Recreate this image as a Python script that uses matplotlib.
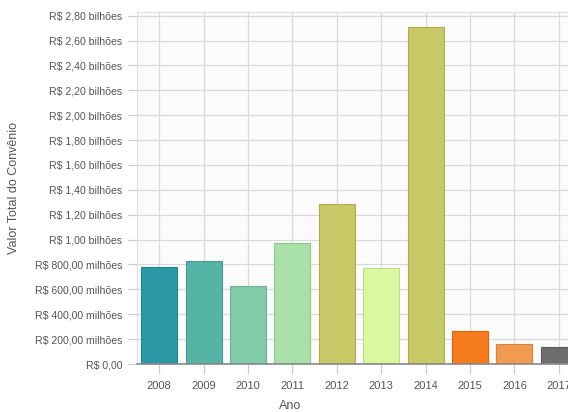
import matplotlib
matplotlib.use("Agg")
import matplotlib.pyplot as plt
from matplotlib.ticker import FuncFormatter, MultipleLocator

# valores em bilhões de R$
anos = ["2008", "2009", "2010", "2011", "2012", "2013", "2014", "2015", "2016", "2017"]
valores = [0.78, 0.83, 0.63, 0.97, 1.29, 0.77, 2.71, 0.265, 0.16, 0.14]
cores = ["#2b9aa6", "#56b4a6", "#80cba8", "#a9e0a8", "#c8c866",
         "#dbf7a0", "#c8c866", "#f57b1c", "#f29a4f", "#6e6e6e"]
bordas = ["#23838e", "#479a8e", "#6cb190", "#8fc690", "#adad52",
          "#bedb86", "#adad52", "#d9660e", "#d8833c", "#5a5a5a"]


def fmt_real(v, pos):
    if v <= 1e-9:
        return "R$ 0,00"
    if v < 0.999:
        return f"R$ {v*1000:.2f} milhões".replace(".", ",")
    return f"R$ {v:.2f} bilhões".replace(".", ",")


plt.rcParams["font.family"] = ["Liberation Sans", "DejaVu Sans"]

fig = plt.figure(figsize=(5.68, 4.12), dpi=100)
ax = fig.add_axes([137 / 568, 48 / 412, 444 / 568, 352 / 412])
ax.set_facecolor("#fbfbfb")

x = range(len(anos))
ax.bar(x, valores, width=0.81, color=cores, edgecolor=bordas, linewidth=0.8, zorder=3)

ax.set_xlim(-0.5, 9.5)
ax.set_ylim(0, 2.83)
ax.yaxis.set_major_locator(MultipleLocator(0.2))
ax.yaxis.set_major_formatter(FuncFormatter(fmt_real))
ax.set_xticks(list(x))
ax.set_xticklabels(anos)

ax.grid(True, color="#d9d9d9", linewidth=0.9, zorder=0)
for s in ["top", "right", "left"]:
    ax.spines[s].set_color("#dedede")
ax.spines["bottom"].set_color("#888888")
ax.spines["bottom"].set_linewidth(1.2)
ax.spines["bottom"].set_zorder(4)

ax.tick_params(axis="y", length=6.5, width=0.9, color="#cccccc", pad=4, labelsize=7.6, labelcolor="#555555")
ax.tick_params(axis="x", length=7, width=0.9, color="#cccccc", pad=5, labelsize=8, labelcolor="#555555")

ax.set_ylabel("Valor Total do Convênio", fontsize=9, color="#555555")
ax.yaxis.set_label_coords((20 - 137) / 444, 0.5)
fig.text(290 / 568, 1 - 406 / 412, "Ano", fontsize=9, color="#555555", ha="center", va="center")

fig.savefig("out.png", dpi=100)
